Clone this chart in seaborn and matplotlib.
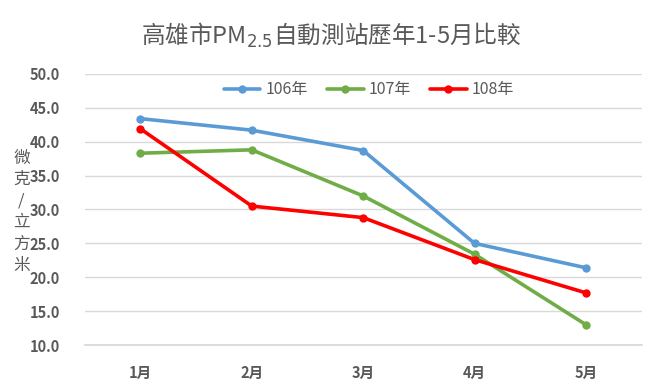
import matplotlib
matplotlib.use("Agg")
import matplotlib.pyplot as plt
import seaborn as sns
import pandas as pd

months = ["1月", "2月", "3月", "4月", "5月"]
y106 = [43.4, 41.7, 38.7, 25.0, 21.4]
y107 = [38.3, 38.8, 32.0, 23.4, 13.0]
y108 = [41.9, 30.5, 28.8, 22.6, 17.7]
years = ["106年", "107年", "108年"]
colors = ["#5B9BD5", "#70AD47", "#FF0000"]

df = pd.DataFrame({
    "month": months * 3,
    "value": y106 + y107 + y108,
    "year": [years[0]] * 5 + [years[1]] * 5 + [years[2]] * 5,
})

sns.set_theme(style="white")
plt.rcParams["font.family"] = ["Noto Sans CJK TC", "DejaVu Sans"]

fig = plt.figure(figsize=(6.67, 3.89), dpi=100)
ax = fig.add_axes([0.127, 0.113, 0.835, 0.697])

sns.lineplot(data=df, x="month", y="value", hue="year", palette=colors,
             marker="o", markersize=6, markeredgewidth=0, linewidth=2.6,
             sort=False, ax=ax)

ax.set_xlim(-0.5, 4.5)
ax.set_ylim(10, 50)
ax.set_yticks([10, 15, 20, 25, 30, 35, 40, 45, 50])
ax.set_yticklabels([f"{v:.1f}" for v in ax.get_yticks()])
ax.yaxis.grid(True, color="#D9D9D9", linewidth=1)
ax.set_axisbelow(True)
for s in ["top", "right", "left"]:
    ax.spines[s].set_visible(False)
ax.spines["bottom"].set_color("#D9D9D9")
ax.tick_params(axis="both", length=0, colors="#595959", labelsize=10.5, pad=14)
for lab in ax.get_xticklabels() + ax.get_yticklabels():
    lab.set_fontweight("bold")
ax.tick_params(axis="y", pad=18)
ax.set_xlabel("")
ax.set_ylabel("")

fig.text(0.032, 0.455, "微\n克\n/\n立\n方\n米", ha="center", va="center",
         color="#595959", fontsize=12, linespacing=1.35)

fig.text(0.497, 0.91, r"高雄市PM$_{2.5}$自動測站歷年1-5月比較", ha="center", va="center",
         color="#595959", fontsize=17)

ax.legend(title=None, loc="upper center", bbox_to_anchor=(0.51, 1.0), ncol=3,
          frameon=False, fontsize=11.5, labelcolor="#595959", handlelength=2.3,
          columnspacing=1.2, handletextpad=0.3, borderaxespad=0.05)

fig.savefig("out.png", dpi=100)
